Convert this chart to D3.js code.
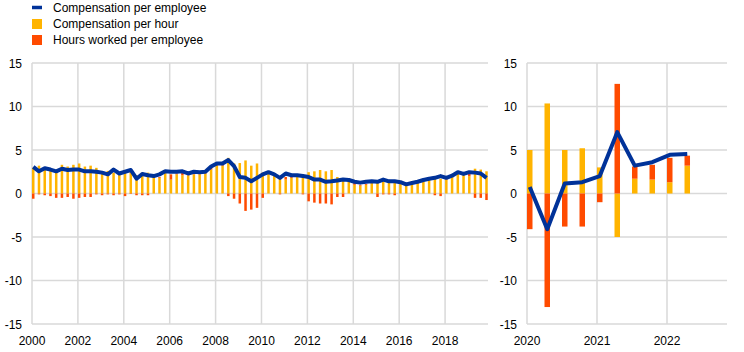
<!DOCTYPE html>
<html>
<head>
<meta charset="utf-8">
<script src="https://cdn.jsdelivr.net/npm/d3@7"></script>
<style>
  body { margin: 0; background: #fff; }
  text { font-family: "Liberation Sans", Arial, sans-serif; }
</style>
</head>
<body>
<div id="chart"></div>
<script>
// Series names and colours
const seriesNames = ["Compensation per employee", "Compensation per hour", "Hours worked per employee"];
const colours = {line: "#003299", hour: "#FFB400", hours: "#FF4B00"};

// Left panel: quarterly, 2000 Q1 - 2019 Q4
const leftDates = d3.range(80).map(i => 2000 + i / 4);
const leftPerEmployee = [
  3.05, 2.55, 2.9, 2.75, 2.55, 2.85, 2.7, 2.75, 2.75, 2.55, 2.55, 2.5, 2.4, 2.2, 2.75, 2.3,
  2.5, 2.7, 1.7, 2.25, 2.1, 2.0, 2.2, 2.55, 2.5, 2.5, 2.55, 2.3, 2.5, 2.45, 2.5, 3.1,
  3.45, 3.45, 3.85, 3.15, 1.9, 1.8, 1.4, 1.8, 2.2, 2.45, 2.2, 1.8, 2.3, 2.1, 2.1, 2.0,
  1.9, 1.6, 1.6, 1.35, 1.4, 1.5, 1.6, 1.55, 1.35, 1.25, 1.35, 1.4, 1.35, 1.6, 1.4, 1.4,
  1.3, 1.05, 1.2, 1.35, 1.55, 1.7, 1.8, 2.0, 1.8, 2.05, 2.45, 2.25, 2.45, 2.4, 2.3, 1.8];
const leftPerHour = [
  2.95, 3.2, 2.8, 2.6, 2.6, 3.3, 3.1, 3.3, 3.45, 3.1, 3.2, 2.95, 2.4, 2.6, 2.4, 2.3,
  2.4, 2.75, 2.1, 2.4, 2.4, 1.9, 1.8, 2.4, 1.6, 2.2, 2.1, 2.1, 2.2, 2.2, 2.3, 2.75,
  3.2, 3.2, 4.1, 3.45, 3.5, 3.8, 3.2, 3.45, 2.4, 2.4, 2.1, 2.0, 1.6, 1.8, 1.9, 2.2,
  2.45, 2.55, 2.7, 2.55, 2.7, 1.9, 1.7, 1.55, 1.0, 0.9, 1.0, 1.2, 1.55, 1.7, 1.55, 1.4,
  1.2, 0.9, 1.2, 1.3, 1.4, 1.55, 1.7, 1.7, 1.6, 2.05, 2.4, 2.4, 2.0, 2.85, 2.75, 2.55];
const leftHours = [
  -0.6, -0.1, -0.2, -0.3, -0.5, -0.5, -0.4, -0.6, -0.5, -0.4, -0.4, -0.1, -0.2, -0.1, -0.2, -0.1,
  -0.3, -0.05, -0.2, -0.2, -0.2, 0.1, 0.1, 0.15, 0.6, 0.1, 0.3, 0.1, 0.1, 0.1, 0.1, 0.2,
  0.1, 0.1, -0.3, -0.6, -1.15, -2.0, -1.85, -1.65, -0.5, 0.05, 0.1, -0.1, 0.3, 0.2, 0.1, -0.1,
  -0.9, -1.05, -1.15, -1.15, -1.25, -0.4, -0.4, 0.05, 0.2, 0.1, 0.1, 0.1, -0.4, -0.1, -0.1, -0.2,
  0.1, 0.1, 0.05, 0.05, 0.1, 0.1, -0.2, -0.3, 0.1, 0.05, 0.05, 0.05, 0.4, -0.5, -0.5, -0.75];

// Right panel: quarterly, 2020 Q1 - 2022 Q2
const rightDates = d3.range(10).map(i => 2020 + i / 4);
const rightPerEmployee = [0.75, -4.1, 1.15, 1.3, 2.0, 7.05, 3.2, 3.6, 4.45, 4.55];
const rightPerHour = [5.0, 10.35, 5.0, 5.2, 3.0, -5.0, 1.7, 1.6, 1.3, 3.2];
const rightHours = [-4.1, -13.05, -3.8, -3.8, -1.0, 12.6, 1.4, 1.7, 2.8, 1.15];

// Axis ticks
const yTicks = [-15, -10, -5, 0, 5, 10, 15];
const leftYearTicks = d3.range(2000, 2019, 2);
const rightYearTicks = [2020, 2021, 2022];

// SVG
const svg = d3.select("#chart").append("svg")
  .attr("width", 744)
  .attr("height", 352);

const y = d3.scaleLinear().domain([-15, 15]).range([324, 63]);

// Legend
const legend = svg.append("g").attr("class", "legend");
legend.append("line")
  .attr("x1", 32).attr("x2", 42).attr("y1", 7.5).attr("y2", 7.5)
  .attr("stroke", colours.line).attr("stroke-width", 3.5);
legend.append("rect").attr("x", 32).attr("y", 19).attr("width", 10).attr("height", 10).attr("fill", colours.hour);
legend.append("rect").attr("x", 32).attr("y", 35).attr("width", 10).attr("height", 10).attr("fill", colours.hours);
legend.selectAll("text.leg")
  .data(seriesNames)
  .enter().append("text")
    .attr("class", "leg")
    .attr("x", 53)
    .attr("y", (d, i) => 12 + i * 16)
    .attr("font-size", 12)
    .attr("fill", "#000")
    .text(d => d);

// Draw one panel
function drawPanel(opts) {
  const x = d3.scaleLinear().domain(opts.domain).range(opts.range);
  const g = svg.append("g").attr("class", "panel");
  const bw = opts.barWidth;

  // horizontal grid
  g.append("g").selectAll("line")
    .data(yTicks)
    .enter().append("line")
      .attr("x1", opts.range[0]).attr("x2", opts.range[1])
      .attr("y1", d => y(d)).attr("y2", d => y(d))
      .attr("stroke", "#d9d9d9").attr("stroke-width", 1.5);

  // vertical grid
  g.append("g").selectAll("line")
    .data(opts.xTicks)
    .enter().append("line")
      .attr("x1", d => x(d)).attr("x2", d => x(d))
      .attr("y1", y(15)).attr("y2", y(-15))
      .attr("stroke", "#d9d9d9").attr("stroke-width", 1.5);

  // y labels
  g.append("g").selectAll("text")
    .data(yTicks)
    .enter().append("text")
      .attr("x", opts.range[0] - 10)
      .attr("y", d => y(d) + 4.5)
      .attr("text-anchor", "end")
      .attr("font-size", 12)
      .text(d => d < 0 ? "-" + Math.abs(d) : d);

  // x labels
  g.append("g").selectAll("text")
    .data(opts.xTicks)
    .enter().append("text")
      .attr("x", d => x(d))
      .attr("y", 345)
      .attr("text-anchor", "middle")
      .attr("font-size", 12)
      .text(d => d);

  // stacked bars (diverging)
  const rows = opts.dates.map((d, i) => ({date: d, hour: opts.perHour[i], hours: opts.hours[i]}));
  const stack = d3.stack()
    .keys(["hour", "hours"])
    .offset(d3.stackOffsetDiverging);
  const layers = stack(rows);

  g.append("g").selectAll("g")
    .data(layers)
    .enter().append("g")
      .attr("fill", d => colours[d.key])
    .selectAll("rect")
    .data(d => d)
    .enter().append("rect")
      .attr("x", d => x(d.data.date))
      .attr("width", bw)
      .attr("y", d => y(Math.max(d[0], d[1])))
      .attr("height", d => Math.abs(y(d[0]) - y(d[1])));

  // line
  const line = d3.line()
    .x((d, i) => x(opts.dates[i]) + bw / 2)
    .y(d => y(d));
  g.append("path")
    .datum(opts.perEmployee)
    .attr("fill", "none")
    .attr("stroke", colours.line)
    .attr("stroke-width", 4)
    .attr("stroke-linejoin", "round")
    .attr("d", line);
}

drawPanel({
  domain: [2000, 2019.87], range: [32, 488],
  xTicks: leftYearTicks, dates: leftDates, barWidth: 2.5,
  perEmployee: leftPerEmployee, perHour: leftPerHour, hours: leftHours
});

drawPanel({
  domain: [2020, 2022.857], range: [527, 727],
  xTicks: rightYearTicks, dates: rightDates, barWidth: 5.5,
  perEmployee: rightPerEmployee, perHour: rightPerHour, hours: rightHours
});
</script>
</body>
</html>
